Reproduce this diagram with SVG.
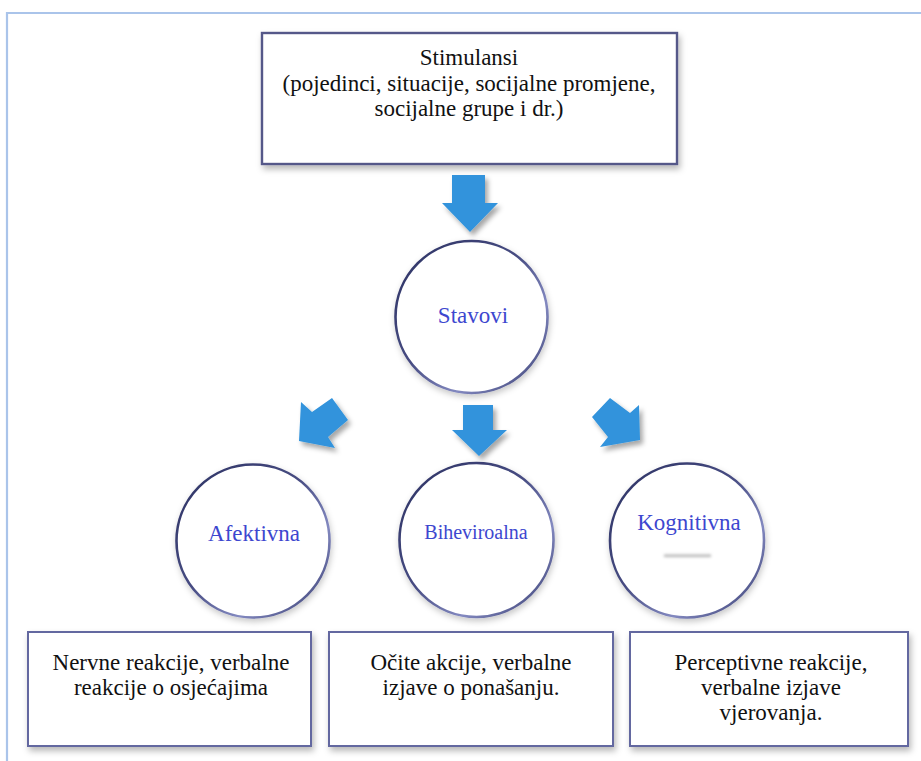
<svg xmlns="http://www.w3.org/2000/svg" width="921" height="761" viewBox="0 0 921 761">
<defs>
<filter id="sh" x="-20%" y="-20%" width="150%" height="150%">
<feDropShadow dx="2" dy="4" stdDeviation="3" flood-color="#000" flood-opacity="0.28"/>
</filter>
<filter id="shc" x="-20%" y="-20%" width="150%" height="150%">
<feDropShadow dx="1" dy="3" stdDeviation="3" flood-color="#000" flood-opacity="0.22"/>
</filter>
<filter id="sha" x="-30%" y="-30%" width="170%" height="170%">
<feDropShadow dx="3" dy="4" stdDeviation="2.5" flood-color="#000" flood-opacity="0.35"/>
</filter>
<filter id="blur" filterUnits="userSpaceOnUse" x="650" y="545" width="75" height="25"><feGaussianBlur stdDeviation="1.5"/></filter>
<linearGradient id="ring" x1="0" y1="0" x2="1" y2="1">
<stop offset="0" stop-color="#2c3162"/>
<stop offset="0.45" stop-color="#474c82"/>
<stop offset="0.7" stop-color="#8389c0"/>
<stop offset="1" stop-color="#2e3366"/>
</linearGradient>
</defs>
<style>
.box{fill:#fff;stroke:#545889;stroke-width:2.4;filter:url(#sh)}
.bbox{fill:#fff;stroke:#6468a0;stroke-width:2;filter:url(#sh)}
.circ{fill:#fff;stroke:url(#ring);stroke-width:2.6;filter:url(#shc)}
.t{font-family:"Liberation Serif","Times New Roman",serif;font-size:23px;fill:#111;text-anchor:middle}
.ct{font-family:"Liberation Serif","Times New Roman",serif;font-size:23px;fill:#3d47cf;text-anchor:middle}
.arr{fill:#3193dc;filter:url(#sha)}
</style>
<rect width="921" height="761" fill="#fff"/>
<path d="M7 761 V13 H921" fill="none" stroke="#aac4ea" stroke-width="2.2"/>

<g id="stimulansi">
<rect class="box" x="262" y="33" width="415" height="131"/>
<text class="t" x="469" y="65">Stimulansi</text>
<text class="t" x="469" y="91">(pojedinci, situacije, socijalne promjene,</text>
<text class="t" x="469" y="116">socijalne grupe i dr.)</text>
</g>

<g id="stavovi">
<circle class="circ" cx="471.5" cy="317" r="76"/>
<text class="ct" x="473" y="323">Stavovi</text>
</g>

<g id="afektivna">
<circle class="circ" cx="253" cy="541" r="76.5"/>
<text class="ct" x="254" y="541">Afektivna</text>
</g>

<g id="biheviroalna">
<circle class="circ" cx="476.5" cy="540" r="77"/>
<text class="ct" x="476" y="539" style="font-size:20px">Biheviroalna</text>
</g>

<g id="kognitivna">
<circle class="circ" cx="687" cy="540.5" r="77"/>
<rect x="630" y="505" width="118" height="33" fill="#fff"/>
<rect x="664" y="554.5" width="47" height="2.5" fill="#b4b4b4" filter="url(#blur)"/>
<text class="ct" x="689" y="530">Kognitivna</text>
</g>

<g id="afektivna-opis">
<rect class="bbox" x="28" y="632" width="283" height="114"/>
<text class="t" x="171" y="670">Nervne reakcije, verbalne</text>
<text class="t" x="171" y="695">reakcije o osjećajima</text>
</g>

<g id="biheviroalna-opis">
<rect class="bbox" x="329" y="632" width="284" height="114"/>
<text class="t" x="471" y="670">Očite akcije, verbalne</text>
<text class="t" x="471" y="695">izjave o ponašanju.</text>
</g>

<g id="kognitivna-opis">
<rect class="bbox" x="630" y="632" width="278" height="114"/>
<text class="t" x="771" y="670">Perceptivne reakcije,</text>
<text class="t" x="771" y="695">verbalne izjave</text>
<text class="t" x="771" y="720">vjerovanja.</text>
</g>

<g id="connectors">
<polygon class="arr" points="452,175 485,175 485,203 498,203 470,232 442,203 452,203"/>
<polygon class="arr" points="463,405 493,405 493,430 507,430 479,456 452,430 463,430"/>
<polygon class="arr" points="301,402 312,412 332,398 348,420 328,437 335,448 299,441"/>
<polygon class="arr" points="592,417 610,398 630,413 639,405 640,440 600,447 608,437"/>
</g>
</svg>
